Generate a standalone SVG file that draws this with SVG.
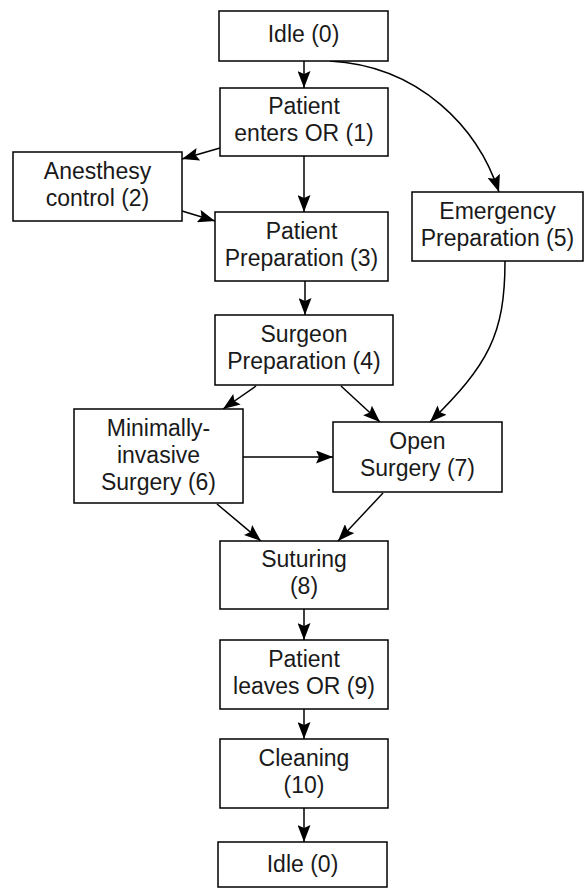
<svg xmlns="http://www.w3.org/2000/svg" width="584" height="888" viewBox="0 0 584 888">
<style>
.box{fill:#fff;stroke:#000;stroke-width:1.5}
.t{font-family:"Liberation Sans",Arial,sans-serif;font-size:23px;fill:#1a1a1a;text-anchor:middle}
.e{fill:none;stroke:#000;stroke-width:1.5}
</style>
<defs>
<marker id="a" markerUnits="userSpaceOnUse" markerWidth="17" markerHeight="13" refX="17" refY="6.5" orient="auto">
<path d="M0,0 L17,6.5 L0,13 L3,6.5 z" fill="#000"/>
</marker>
</defs>
<rect width="584" height="888" fill="#fff"/>
<g id="edges">
<path class="e" d="M304,61 L304,88" marker-end="url(#a)"/>
<path class="e" d="M330,61 C420,66 478,128 499,192" marker-end="url(#a)"/>
<path class="e" d="M220,148 L182,159" marker-end="url(#a)"/>
<path class="e" d="M304,156 L304,212" marker-end="url(#a)"/>
<path class="e" d="M182,211 L215,221" marker-end="url(#a)"/>
<path class="e" d="M305,281 L305,315" marker-end="url(#a)"/>
<path class="e" d="M256,386 L223,409" marker-end="url(#a)"/>
<path class="e" d="M341,386 L380,422" marker-end="url(#a)"/>
<path class="e" d="M505,261 C505,335 488,365 430,422" marker-end="url(#a)"/>
<path class="e" d="M243,457 L333,457" marker-end="url(#a)"/>
<path class="e" d="M217,504 L261,541" marker-end="url(#a)"/>
<path class="e" d="M383,493 L338,541" marker-end="url(#a)"/>
<path class="e" d="M304,609 L304,640" marker-end="url(#a)"/>
<path class="e" d="M304,709 L304,739" marker-end="url(#a)"/>
<path class="e" d="M304,808 L304,842" marker-end="url(#a)"/>
</g>
<g id="n0"><rect class="box" x="219" y="11" width="169" height="50"/><text class="t" x="303.5" y="42">Idle (0)</text></g>
<g id="n1"><rect class="box" x="220" y="88" width="168" height="68"/><text class="t" x="304" y="114">Patient</text><text class="t" x="304" y="141">enters OR (1)</text></g>
<g id="n2"><rect class="box" x="13" y="152" width="169" height="69"/><text class="t" x="97.5" y="179">Anesthesy</text><text class="t" x="97.5" y="206">control (2)</text></g>
<g id="n3"><rect class="box" x="215" y="212" width="173" height="69"/><text class="t" x="301.5" y="239">Patient</text><text class="t" x="301.5" y="266">Preparation (3)</text></g>
<g id="n5"><rect class="box" x="412" y="192" width="171" height="69"/><text class="t" x="497.5" y="219">Emergency</text><text class="t" x="497.5" y="246">Preparation (5)</text></g>
<g id="n4"><rect class="box" x="215" y="315" width="178" height="70"/><text class="t" x="304" y="342">Surgeon</text><text class="t" x="304" y="369">Preparation (4)</text></g>
<g id="n6"><rect class="box" x="74" y="409" width="169" height="94"/><text class="t" x="158.5" y="436">Minimally-</text><text class="t" x="158.5" y="463">invasive</text><text class="t" x="158.5" y="490">Surgery (6)</text></g>
<g id="n7"><rect class="box" x="333" y="422" width="169" height="70"/><text class="t" x="417.5" y="449">Open</text><text class="t" x="417.5" y="476">Surgery (7)</text></g>
<g id="n8"><rect class="box" x="220" y="541" width="168" height="68"/><text class="t" x="304" y="567">Suturing</text><text class="t" x="304" y="594">(8)</text></g>
<g id="n9"><rect class="box" x="220" y="640" width="168" height="69"/><text class="t" x="304" y="667">Patient</text><text class="t" x="304" y="694">leaves OR (9)</text></g>
<g id="n10"><rect class="box" x="220" y="739" width="168" height="69"/><text class="t" x="304" y="766">Cleaning</text><text class="t" x="304" y="793">(10)</text></g>
<g id="n0b"><rect class="box" x="218" y="842" width="169" height="45"/><text class="t" x="302.5" y="872">Idle (0)</text></g>
</svg>
